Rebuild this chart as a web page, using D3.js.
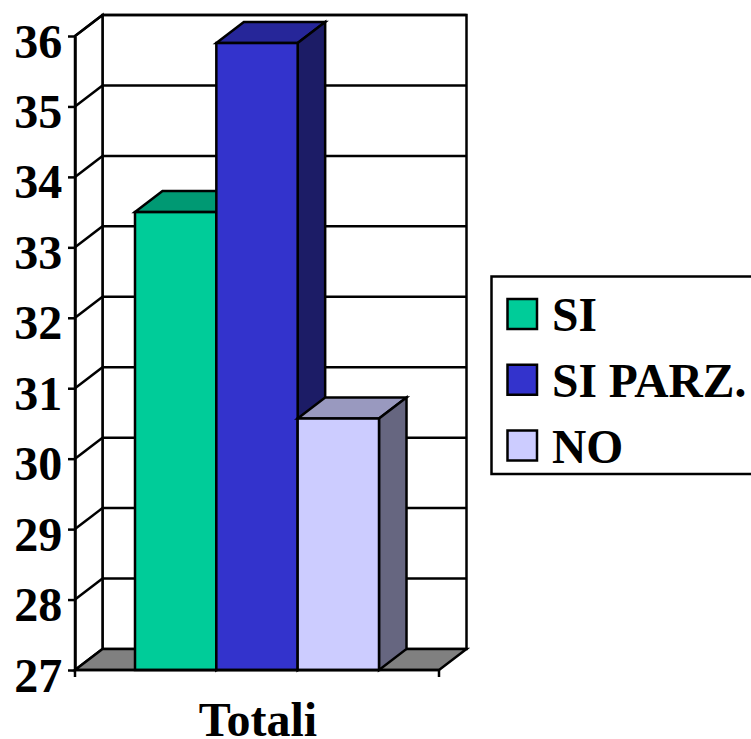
<!DOCTYPE html>
<html><head><meta charset="utf-8">
<script src="https://cdn.jsdelivr.net/npm/d3@7"></script>
<style>
html,body{margin:0;padding:0;background:#fff;overflow:hidden}
svg{display:block}
text{font-family:"Liberation Serif",serif;font-weight:bold;fill:#000}
</style></head><body>
<svg id="c" width="751" height="739"></svg>
<script>
const seriesNames = ["SI","SI PARZ.","NO"];
const seriesValues = [33.5,35.9,30.57];
const categories = ["Totali"];
const yTicks = [27,28,29,30,31,32,33,34,35,36];
const frontColors = ["#00CC99","#3333CC","#CCCCFF"];
const topColors = ["#009973","#262699","#9999BF"];
const sideColors = ["#006B50","#1C1C66","#666680"];
const floorColor = "#808080";

const dx = 27.5, dy = -21;
const svg = d3.select("#c");
const y = d3.scaleLinear().domain([27,36]).range([670,36]);
const x0 = d3.scaleBand().domain(categories).range([75,439]);
const xs = d3.scaleBand().domain(seriesNames).range([135,379]);
const sw = 2.5;
const poly = (pts,fill,w=sw) => svg.append("polygon")
  .attr("points",pts.map(p=>p.join(",")).join(" "))
  .attr("fill",fill).attr("stroke","#000").attr("stroke-width",w).attr("stroke-linejoin","miter");
const line = (x1,y1,x2,y2,w=sw) => svg.append("line")
  .attr("x1",x1).attr("y1",y1).attr("x2",x2).attr("y2",y2)
  .attr("stroke","#000").attr("stroke-width",w);

const xL = x0.range()[0], xR = x0.range()[1], y0 = y(27), yT = y(36);

// back wall and left wall
svg.append("rect").attr("x",xL+dx).attr("y",yT+dy).attr("width",xR-xL).attr("height",y0-yT)
  .attr("fill","#fff").attr("stroke","#000").attr("stroke-width",sw);
poly([[xL,y0],[xL,yT],[xL+dx,yT+dy],[xL+dx,y0+dy]],"#fff");
// gridlines
yTicks.slice(1).forEach(t=>{
  line(xL,y(t),xL+dx,y(t)+dy);
  line(xL+dx,y(t)+dy,xR+dx,y(t)+dy);
});
// floor
poly([[xL,y0],[xL+dx,y0+dy],[xR+dx,y0+dy],[xR,y0]],floorColor);

// bars
seriesNames.forEach((s,i)=>{
  const a = xs(s), b = a+xs.bandwidth(), t = y(seriesValues[i]);
  poly([[a,t],[a+dx,t+dy],[b+dx,t+dy],[b,t]],topColors[i]);
  poly([[b,t],[b+dx,t+dy],[b+dx,y0+dy],[b,y0]],sideColors[i]);
  svg.append("rect").attr("x",a).attr("y",t).attr("width",b-a).attr("height",y0-t)
    .attr("fill",frontColors[i]).attr("stroke","#000").attr("stroke-width",sw);
});

// y axis
const yAxis = svg.append("g").attr("transform",`translate(${xL},0)`)
  .call(d3.axisLeft(y).tickValues(yTicks).tickSize(7).tickPadding(5).tickSizeOuter(0));
yAxis.selectAll("path,line").attr("stroke","#000").attr("stroke-width",sw);
yAxis.selectAll("text").attr("font-size",48).attr("font-family",null).attr("dy",null)
  .attr("y",21).attr("x",-12.7);

// x axis
line(xL,y0,xR,y0);
[xL,xR].forEach(v=>line(v,y0,v,y0+7));
svg.selectAll(".cat").data(categories).join("text").attr("class","cat")
  .attr("x",d=>x0(d)+x0.bandwidth()/2+1).attr("y",736).attr("text-anchor","middle")
  .attr("font-size",48).text(d=>d);

// legend
svg.append("rect").attr("x",491.5).attr("y",276.5).attr("width",270).attr("height",197.5)
  .attr("fill","#fff").attr("stroke","#000").attr("stroke-width",sw);
const ly = d3.scalePoint().domain(seriesNames).range([314,445.5]);
seriesNames.forEach((s,i)=>{
  svg.append("rect").attr("x",507.5).attr("y",ly(s)-15).attr("width",29.5).attr("height",30)
    .attr("fill",frontColors[i]).attr("stroke","#000").attr("stroke-width",sw);
  svg.append("text").attr("x",552).attr("y",ly(s)+17).attr("font-size",47.5).text(s);
});
</script>
</body></html>
